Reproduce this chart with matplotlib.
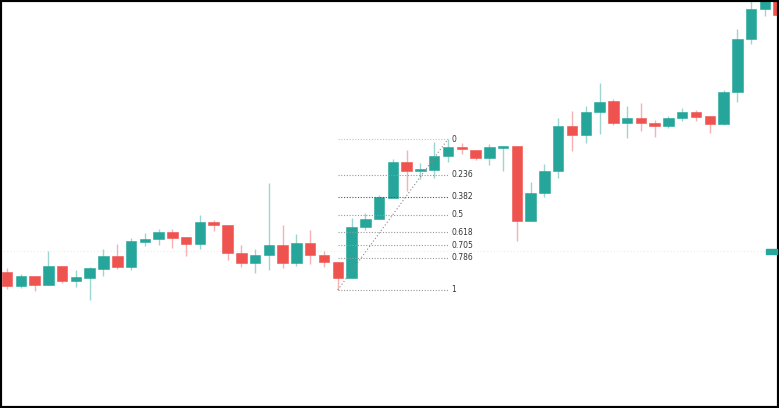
import matplotlib
matplotlib.use("Agg")
from matplotlib import pyplot as plt
import numpy as np

# candle data
opens = [136.3, 122.3, 131.7, 123.3, 142.0, 127.0, 130.3, 139.3, 152.0, 141.3,
         166.3, 169.3, 175.7, 171.0, 164.3, 185.7, 183.0, 155.0, 144.7, 152.7,
         162.7, 145.0, 164.7, 153.0, 145.7, 130.0, 181.0, 188.7, 210.3, 246.3,
         237.5, 237.7, 252.0, 261.3, 258.0, 250.3, 260.3, 262.0, 187.0, 214.7,
         237.3, 281.7, 273.0, 296.0, 306.7, 285.0, 290.3, 285.3, 281.7, 290.3,
         296.3, 292.0, 283.7, 316.3, 369.0, 398.7, 425.0]
highs = [140.0, 134.3, 132.0, 157.0, 142.0, 138.0, 140.7, 159.0, 164.0, 170.0,
         175.3, 178.7, 179.3, 171.0, 193.0, 188.0, 183.0, 162.7, 158.7, 225.0,
         183.0, 174.3, 178.0, 157.0, 145.7, 190.0, 195.0, 213.0, 248.7, 258.0,
         245.3, 266.3, 269.0, 264.7, 258.0, 264.0, 262.0, 262.0, 226.0, 244.0,
         290.0, 297.0, 302.0, 324.7, 309.0, 302.0, 304.7, 288.0, 292.0, 300.0,
         298.0, 292.0, 318.0, 378.7, 413.0, 428.0, 428.0]
lows = [119.0, 120.0, 117.3, 123.3, 125.0, 121.3, 108.0, 132.3, 139.3, 138.0,
        162.0, 163.3, 160.0, 152.3, 158.7, 177.3, 148.0, 141.0, 135.3, 138.3,
        139.7, 142.0, 144.3, 140.7, 118.0, 130.0, 178.0, 188.7, 210.3, 217.3,
        229.0, 230.3, 246.3, 253.7, 248.0, 243.3, 237.3, 167.3, 187.0, 211.3,
        229.7, 257.3, 265.3, 273.7, 283.3, 269.7, 277.3, 270.7, 280.3, 287.3,
        287.3, 275.3, 283.0, 306.3, 363.7, 392.0, 388.0]
closes = [122.3, 131.7, 123.3, 142.0, 126.7, 131.0, 139.7, 152.0, 141.0, 166.7,
          169.3, 175.7, 170.3, 164.3, 185.7, 182.7, 154.7, 145.0, 153.0, 162.7,
          145.0, 164.7, 153.3, 146.0, 130.0, 181.0, 189.0, 211.0, 246.3, 237.3,
          238.5, 252.0, 261.0, 258.7, 250.3, 260.7, 261.7, 187.0, 214.7, 237.3,
          281.7, 273.0, 296.3, 306.3, 284.7, 290.3, 285.0, 281.7, 290.3, 296.3,
          291.3, 283.7, 316.3, 369.0, 399.0, 423.0, 393.0]

fib_ratios = [0, 0.236, 0.382, 0.5, 0.618, 0.705, 0.786, 1]
fib_labels = ["0", "0.236", "0.382", "0.5", "0.618", "0.705", "0.786", "1"]
fib_start, fib_end = 24, 32   # swing low candle -> swing high candle
last_price = 157.0

green = "#26a69a"
red = "#ef5350"

o = np.array(opens)
c = np.array(closes)
x = np.arange(len(o))
up = c >= o
cols = np.where(up, green, red)

fig = plt.figure(figsize=(7.79, 4.08), dpi=100)
ax = fig.add_axes([0, 0, 1, 1])

ax.axhline(last_price, color="#ececec", lw=0.8, ls=(0, (1, 2)), zorder=0)

ax.vlines(x, lows, highs, colors=cols, lw=1.0, alpha=0.45, zorder=1)
ax.bar(x, np.maximum(np.abs(c - o), 1.2), bottom=np.minimum(o, c), width=0.76,
       color=cols, edgecolor=cols, linewidth=0.4, zorder=2)

# fibonacci retracement
lo = lows[fib_start]
hi = highs[fib_end]
for r, lab in zip(fib_ratios, fib_labels):
    lvl = hi - r * (hi - lo)
    if r == 0:
        col = "#c4c4c4"
    elif r == 0.382:
        col = "#555555"
    else:
        col = "#9a9a9a"
    ax.plot([fib_start, fib_end], [lvl, lvl], color=col, lw=0.8,
            ls=(0, (1, 1.5)), zorder=3)
    ax.text(fib_end + 0.25, lvl, lab, fontsize=5.5, color="#333333",
            va="center", ha="left", zorder=4)
ax.plot([fib_start, fib_end], [lo, hi], color="#888888", lw=0.8,
        ls=(0, (1, 2)), zorder=3)

ax.set_xlim(-0.51, 56.02)
ax.set_ylim(0, 408)

# small price tag on the right edge
tag = plt.Rectangle((55.1, last_price - 2.5), 0.8, 5, color=green,
                    zorder=5, clip_on=False)
ax.add_patch(tag)

ax.set_xticks([])
ax.set_yticks([])
for s in ax.spines.values():
    s.set_linewidth(3)
    s.set_color("black")

fig.savefig("out.png", dpi=100)
